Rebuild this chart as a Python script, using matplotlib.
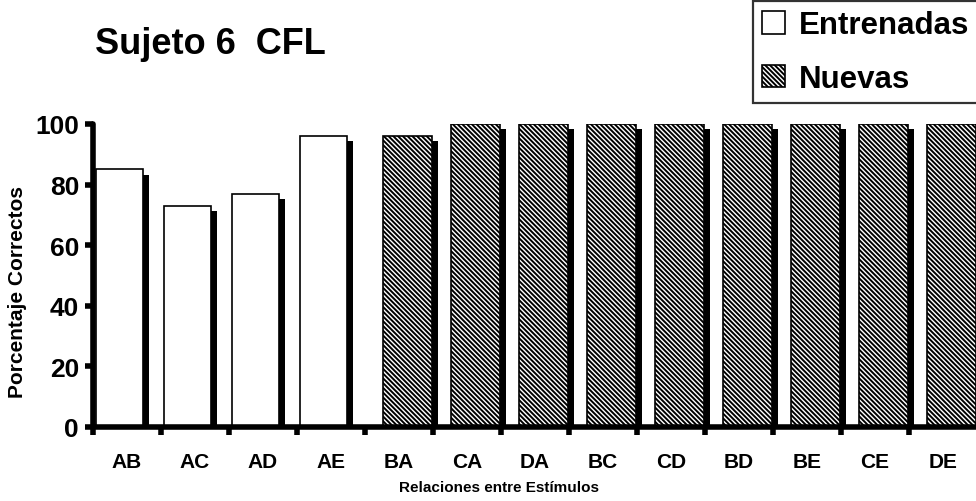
import numpy as np
import matplotlib.pyplot as plt
from matplotlib.patches import Patch

plt.rcParams['font.family'] = ['Liberation Sans', 'DejaVu Sans']
plt.rcParams['font.weight'] = 'bold'
plt.rcParams['hatch.linewidth'] = 1.4

# data
relaciones = ['AB', 'AC', 'AD', 'AE', 'BA', 'CA', 'DA', 'BC', 'CD', 'BD', 'BE', 'CE', 'DE']
entrenadas = [85, 73, 77, 96, 0, 0, 0, 0, 0, 0, 0, 0, 0]
nuevas = [0, 0, 0, 0, 96, 100, 100, 100, 100, 100, 100, 100, 100]
yticks = [0, 20, 40, 60, 80, 100]

HATCH = '\\' * 7

fig = plt.figure(figsize=(9.76, 5.02), dpi=100)
ax = fig.add_axes([93 / 976, 1 - 428 / 502, 884 / 976, 303 / 502])

x = np.arange(len(relaciones))
ent = np.array(entrenadas, dtype=float)
nue = np.array(nuevas, dtype=float)
ent_mask = ent > 0
nue_mask = nue > 0

w = 0.72
dx, dy = 0.08, 1.7  # drop shadow offset

# shadows
ax.bar(x[ent_mask] + 0.04 + dx, ent[ent_mask] - dy, width=w - 0.02, align='edge',
       color='black', zorder=1)
ax.bar(x[nue_mask] + 0.27 + dx, nue[nue_mask] - dy, width=w, align='edge',
       color='black', zorder=1)

# bars
ax.bar(x[ent_mask] + 0.04, ent[ent_mask], width=w - 0.02, align='edge',
       facecolor='white', edgecolor='black', linewidth=1.2, zorder=2)
ax.bar(x[nue_mask] + 0.27, nue[nue_mask], width=w, align='edge',
       facecolor='white', edgecolor='black', hatch=HATCH,
       linewidth=1.2, zorder=2)

ax.set_xlim(0, len(relaciones))
ax.set_ylim(0, 100)

for s in ['top', 'right']:
    ax.spines[s].set_visible(False)
for s in ['left', 'bottom']:
    ax.spines[s].set_linewidth(4)
    ax.spines[s].set_zorder(5)
    ax.spines[s].set_capstyle('round')

ax.set_yticks(yticks)
ax.set_yticklabels([str(v) for v in yticks], fontsize=19, fontweight='bold')
ax.tick_params(axis='y', length=6, width=4, pad=4)

ax.set_xticks(x + 0.5)
ax.set_xticklabels(relaciones, fontsize=15, fontweight='bold')
ax.set_xticks(x, minor=True)
ax.tick_params(axis='x', which='major', length=0, pad=18)
ax.tick_params(axis='x', which='minor', length=6, width=4)

ax.set_ylabel('Porcentaje Correctos', fontsize=15, fontweight='bold')
ax.yaxis.set_label_coords(-0.075, 0.45)
fig.text(499 / 976, 1 - 488 / 502, 'Relaciones entre Estímulos', fontsize=11,
         fontweight='bold', ha='center', va='center')

fig.text(95 / 976, 1 - 45 / 502, 'Sujeto 6  CFL', fontsize=26,
         fontweight='bold', ha='left', va='center')

handles = [Patch(facecolor='white', edgecolor='black', linewidth=1.2),
           Patch(facecolor='white', edgecolor='black', hatch=HATCH, linewidth=1.2)]
leg = fig.legend(handles, ['Entrenadas', 'Nuevas'], loc='upper left',
                 bbox_to_anchor=(753 / 976, 1 - 2 / 502), fontsize=22.5,
                 frameon=True, fancybox=False, edgecolor='black',
                 handlelength=0.72, handleheight=0.72, handletextpad=0.45,
                 labelspacing=0.75, borderpad=0.3, borderaxespad=0)
leg.get_frame().set_linewidth(1.6)
for t in leg.get_texts():
    t.set_fontweight('bold')

fig.savefig('out.png', dpi=100)
